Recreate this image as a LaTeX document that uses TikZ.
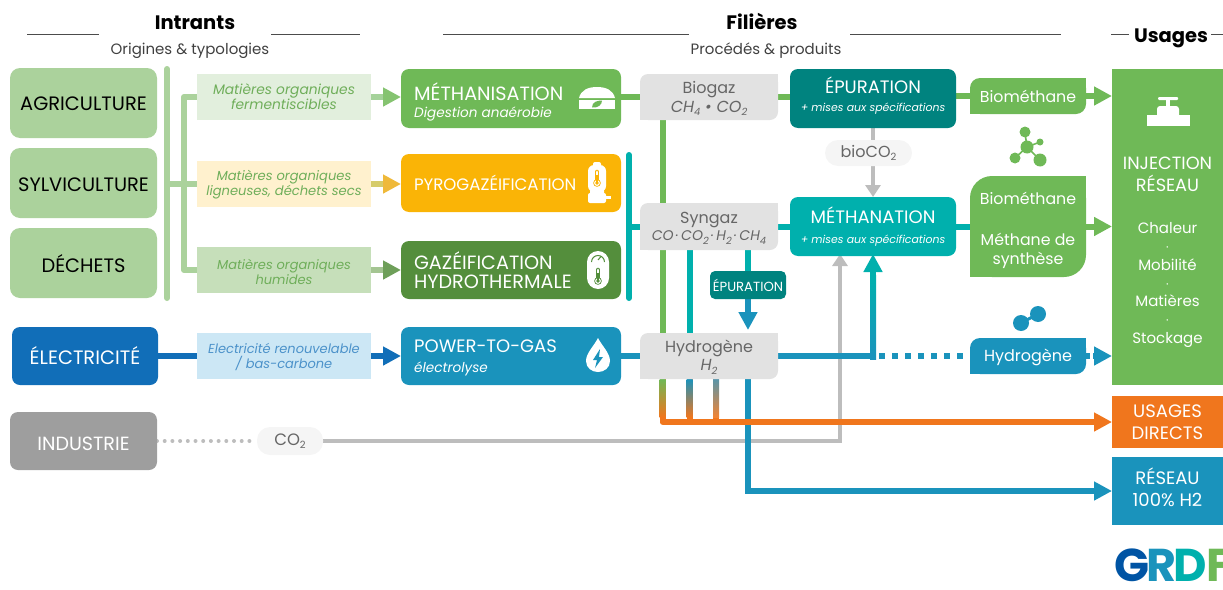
\documentclass[tikz,border=0pt]{standalone}
\usepackage{fontspec}
\setmainfont{Poppins}
\usetikzlibrary{arrows.meta,backgrounds,calc}
\definecolor{cGreen}{HTML}{6FB957}
\definecolor{cLeft}{HTML}{ABD29C}
\definecolor{cYellow}{HTML}{FAB406}
\definecolor{cDark}{HTML}{548E3C}
\definecolor{cBlue}{HTML}{1A93BC}
\definecolor{cElec}{HTML}{116EB8}
\definecolor{cTeal}{HTML}{00B0AD}
\definecolor{cDeep}{HTML}{00837F}
\definecolor{cOrange}{HTML}{F0761D}
\definecolor{cGray}{HTML}{BDBDBD}
\definecolor{cPanel}{HTML}{E2E2E2}
\definecolor{cTxt}{HTML}{666666}
\definecolor{cMat}{HTML}{6FAE5A}
\newcommand{\fs}[1]{\fontsize{#1}{#1}\selectfont}
\newcommand{\sbs}[1]{\raisebox{-3.5pt}{\fontsize{10}{10}\selectfont #1}}
\newcommand{\bx}[7]{\node[inner sep=0pt,outer sep=0pt,align=center,minimum width={(#4-#2)*1pt},minimum height={(#5-#3)*1pt},#6] (#1) at ({(#2+#4)/2},{(#3+#5)/2}) {#7};}
\newcommand{\lf}[9]{%
 \fill[#7] (#4-#6,#3) rectangle (#4,#3+#6);
 \fill[#7] (#2,#5-#6) rectangle (#2+#6,#5);
 \bx{#1}{#2}{#3}{#4}{#5}{fill=#7,rounded corners=#6pt,#8}{#9}}
\newcommand{\thermo}[5]{% x, top y, bulb y, colour, background
 \draw[#4,line width=4.6pt,line cap=round] (#1,#2) -- (#1,#3);
 \fill[#4] (#1,#3) circle[radius=3.8];
 \draw[#5,line width=2.8pt,line cap=round] (#1,#2) -- (#1,#3);
 \fill[#5] (#1,#3) circle[radius=2.9];
 \draw[#4,line width=1.1pt] (#1,#2+2.5) -- (#1,#3);
 \fill[#4] (#1,#3) circle[radius=1.9];
}
\tikzset{
 x=1pt,y=-1pt,
 left box/.style={fill=cLeft,rounded corners=10pt,font=\fs{19.4},text=black},
 mat/.style={font=\fs{13.8}\itshape,text=cMat},
 proc/.style={rounded corners=8pt,text=white,align=left,text width=194pt,font=\fs{19.2}},
 proc text/.style={anchor=west,inner sep=0pt,text=white,align=left},
 panel/.style={font=\fs{16},text=cTxt},
 pill/.style={fill=black!4,rounded corners=13pt,text=cTxt,font=\fs{16}},
 head/.style={font=\fs{19.5}\bfseries,text=black},
 sub/.style={font=\fs{15},text=black!75},
 rule/.style={draw=black!70,line width=0.8pt},
 flow/.style={line width=6pt},
 big tip/.style={-{Triangle[length=18pt,width=18pt]}},
 small tip/.style={-{Triangle[length=12pt,width=15pt]}},
}
\begin{document}
\begin{tikzpicture}
\useasboundingbox (0,0) rectangle (1223,589);
% headings
\node[head] (tIn) at (195,23) {Intrants};
\node[sub] (sIn) at (190,51) {Origines \& typologies};
\node[head] (tFi) at (762,21.5) {Filières};
\node[sub] (sFi) at (766,51) {Procédés \& produits};
\node[head] (tUs) at (1171,38.5) {Usages};
\draw[rule] (27,34.5) -- (99,34.5);
\draw[rule] (271,34.5) -- (360,34.5);
\draw[rule] (443,34.5) -- (689,34.5);
\draw[rule] (850,34.5) -- (1061,34.5);
\draw[rule] (1111,34.5) -- (1129,34.5);
\draw[rule] (1211,34.5) -- (1223,34.5);
% sources
\bx{agri}{10}{68}{157}{138}{left box}{\rule{0pt}{16pt}AGRICULTURE}
\bx{sylv}{10}{148}{157}{218}{left box}{\rule{0pt}{18pt}SYLVICULTURE}
\bx{dech}{10}{228}{157}{298}{left box}{\rule{0pt}{20pt}DÉCHETS}
\bx{elec}{12}{327}{158}{385}{fill=cElec,rounded corners=8pt,text=white,font=\fs{19.4}}{ÉLECTRICITÉ}
\bx{indu}{10}{412}{157}{470}{fill=black!38,rounded corners=8pt,text=white,font=\fs{19.1}}{\rule{0pt}{19.5pt}INDUSTRIE}
\coordinate (barT) at (167,69);
\coordinate (barB) at (167,298);
\coordinate (forkT) at (184,97);
\coordinate (forkB) at (184,270);
% matters
\bx{m1}{197}{74}{371}{120}{fill={rgb,255:red,226;green,239;blue,221},mat}{Matières organiques\\fermentiscibles}
\bx{m2}{197}{161}{371}{207}{fill={rgb,255:red,255;green,241;blue,206},mat,font=\fs{13.1}\itshape}{\rule{0pt}{12pt}Matières organiques\\ligneuses, déchets secs}
\bx{m3}{197}{247}{371}{293}{fill={rgb,255:red,198;green,223;blue,186},mat,font=\fs{13}\itshape}{\rule{0pt}{14pt}Matières organiques\\humides}
\bx{m4}{197}{333}{371}{379}{fill={rgb,255:red,204;green,231;blue,245},mat,font=\fs{13}\itshape,text=cElec!75!white}{\rule{0pt}{12pt}Electricité renouvelable\\[2.5pt]/ bas-carbone}
% processes
\bx{p1}{401}{69}{621}{128}{fill=cGreen,proc}{}
\node[proc text,font=\fs{19.2}] (p1T) at (414,102) {MÉTHANISATION\\[-3pt]{\fs{13.6}\itshape Digestion anaérobie}};
\bx{p2}{401}{154}{621}{212}{fill=cYellow,proc,font=\fs{16.6}}{PYROGAZÉIFICATION}
\bx{p3}{401}{241}{621}{299}{fill=cDark,proc}{GAZÉIFICATION\\[0pt]HYDROTHERMALE}
\bx{p4}{401}{327}{621}{385}{fill=cBlue,proc}{}
\node[proc text,font=\fs{18}] (p4T) at (414,358) {POWER-TO-GAS\\[2pt]{\fs{13.6}\itshape électrolyse}};
% gas panels
\lf{bio}{640}{74}{778}{120}{8}{cPanel}{panel}{\rule{0pt}{15pt}Biogaz\\[3pt]{\itshape CH\sbs{4} • CO\sbs{2}}}
\lf{syn}{640}{203}{778}{250}{8}{cPanel}{panel}{\rule{0pt}{15pt}Syngaz\\[1pt]{\fs{14}\itshape CO\,·\,CO\sbs{2}\,·\,H\sbs{2}\,·\,CH\sbs{4}}}
\lf{hyd}{640}{333}{778}{379}{8}{cPanel}{panel}{\rule{0pt}{15pt}Hydrogène\\[2pt]{\itshape H\sbs{2}}}
% treatment
\bx{epu}{790}{69}{956}{128}{fill=cDeep,rounded corners=8pt}{}
\node[inner sep=0pt,align=center,text=white,font=\fs{18}] (epuT) at (873,96) {ÉPURATION\\[0pt]{\fs{10.9}\itshape + mises aux spécifications}};
\bx{met}{790}{197}{956}{256}{fill=cTeal,rounded corners=8pt,text=white,font=\fs{18}}{MÉTHANATION\\[2pt]{\fs{10.9}\itshape + mises aux spécifications}}
\bx{eps}{710}{271}{786}{299}{fill=cDeep,rounded corners=5pt,text=white,font=\fs{13.2}}{ÉPURATION}
\bx{bco}{825}{140}{912}{166}{pill}{bioCO\sbs{2}}
\bx{co2}{257}{427}{323}{455}{pill,font=\fs{16.5}}{CO\sbs{2}}
% products
\lf{pr1}{970}{78}{1086}{114}{10}{cGreen}{text=white,font=\fs{15.8}}{\rule{0pt}{14pt}Biométhane}
\lf{pr2}{970}{176}{1086}{277}{22}{cGreen}{text=white,font=\fs{15.8}}{\rule{0pt}{19.5pt}Biométhane\\[25pt]Méthane de\\[3pt]synthèse}
\lf{pr3}{970}{338}{1086}{374}{10}{cBlue}{text=white,font=\fs{16}}{\rule{0pt}{16pt}Hydrogène}
% uses
\bx{inj}{1112}{69}{1223}{385}{fill=cGreen}{}
\node[text=white,font=\fs{17.7},align=center,inner sep=0pt] (injT) at (1167.5,174) {INJECTION\\[4pt]RÉSEAU};
\node[text=white,font=\fs{15},align=center,inner sep=0pt] (injU) at (1167.5,285) {Chaleur\\[3pt]{\fs{12}·}\\[3.7pt]Mobilité\\[3pt]{\fs{12}·}\\[3.7pt]Matières\\[3pt]{\fs{12}·}\\[3.7pt]Stockage};
\bx{dir}{1112}{396}{1223}{448}{fill=cOrange,text=white,font=\fs{18}}{USAGES\\[4pt]DIRECTS}
\bx{res}{1112}{457}{1223}{525}{fill=cBlue,text=white,font=\fs{18}}{RÉSEAU\\[4pt]100\% H2\rule[-7pt]{0pt}{0pt}}
% icons: tap
\fill[white] (1147,115) rectangle (1190,126);
\fill[white,rounded corners=3pt] (1157,106) rectangle (1179,118);
\fill[white] (1166,99) rectangle (1170,107);
\fill[white,rounded corners=1pt] (1158,97) rectangle (1178,100);
% icons: molecule
\draw[cGreen,line width=1.6pt] (1025,133) -- (1027,147) -- (1040,142);
\draw[cGreen,line width=1.6pt] (1015,158) -- (1027,147) -- (1040,160);
\fill[cGreen] (1027,147) circle[radius=6.5];
\fill[cGreen] (1025,132) circle[radius=5.5];
\fill[cGreen] (1040,142) circle[radius=3.5];
\fill[cGreen] (1015,158) circle[radius=5.5];
\fill[cGreen] (1040,160) circle[radius=6.5];
% icons: H2
\draw[cBlue,line width=3pt] (1021,323) -- (1038,314);
\fill[cBlue] (1021,323) circle[radius=8];
\fill[cBlue] (1038,314) circle[radius=8];
% icons: dome
\fill[white] (579,98) .. controls (581,90) and (588,87) .. (597,87) .. controls (606,87) and (613,90) .. (615,98) -- cycle;
\fill[white] (579,99.5) rectangle (615,109);
\fill[cGreen] (592,107.5) .. controls (592,102) and (597,100.5) .. (602,100.5) .. controls (602,105) and (598,108) .. (592,107.5) -- cycle;
% icons: pyro
\fill[white,rounded corners=2pt] (593,162) rectangle (601,169);
\fill[white,rounded corners=6pt] (588,165) rectangle (606,192);
\fill[white,rounded corners=2pt] (590,189) rectangle (604,196);
\fill[white,rounded corners=2pt] (588,193) rectangle (606,203);
\fill[white] (605,195.5) rectangle (610.5,198.5);
\thermo{597}{172}{183}{cYellow}{white}
% icons: gauge
\fill[white,rounded corners=11pt] (587,251) rectangle (609,289);
\draw[cDark,line width=1pt] (591.5,262) arc[start angle=180,end angle=0,radius=6.5,y radius=-6.5];
\draw[cDark,line width=1pt] (598,260) -- (601,256.5);
\thermo{598}{270}{281}{cDark}{white}
% icons: drop
\fill[white] (598,338) .. controls (594,346) and (586,353) .. (586,361) .. controls (586,368) and (592,372) .. (598,372) .. controls (604,372) and (610,368) .. (610,361) .. controls (610,353) and (602,346) .. (598,338) -- cycle;
\fill[cBlue] (600,349) -- (593,360) -- (597,360) -- (595,368) -- (603,357) -- (599,357) -- cycle;
% logo
\node[anchor=west,inner sep=0pt,font=\fs{46}\bfseries,text={rgb,255:red,0;green,84;blue,164}] (lgG) at (1114,565) {G};
\node[anchor=west,inner sep=0pt,font=\fs{46}\bfseries,text=cBlue] (lgR) at (1146,565) {R};
\node[anchor=west,inner sep=0pt,font=\fs{46}\bfseries,text=cTeal] (lgD) at (1173,565) {D};
\node[anchor=west,inner sep=0pt,font=\fs{46}\bfseries,text=cGreen] (lgF) at (1206,565) {F};
% connectors
\begin{pgfonlayer}{background}
\draw[cLeft,line width=6pt,line cap=round] (barT) -- (barB);
\draw[cLeft,line width=6pt,line join=round] (m1.west) -| (forkT) -- (forkB) |- (m3.west);
\draw[cLeft,line width=6pt] (barT |- m2.west) -- (m2.west);
\draw[flow,color={rgb,255:red,165;green,210;blue,154},-{Triangle[length=18pt,width=18pt,color=cGreen!85!white]}] (m1.east) -- (m1.east -| p1.west);
\draw[flow,color={rgb,255:red,214;green,204;blue,106},-{Triangle[length=18pt,width=18pt,color={rgb,255:red,239;green,185;blue,58}]}] (m2.east) -- (m2.east -| p2.west);
\draw[flow,color={rgb,255:red,164;green,197;blue,146},-{Triangle[length=18pt,width=18pt,color=cDark!85!white]}] (m3.east) -- (m3.east -| p3.west);
\draw[flow,cElec] (elec.east) -- (elec.east -| m4.west);
\draw[flow,cElec,big tip] (m4.east) -- (m4.east -| p4.west);
\coordinate (tbT) at (629,155);
\coordinate (tbB) at (629,298);
\draw[cTeal,line width=6pt,line cap=round] (tbT) -- (tbB);
\draw[flow,cTeal] (tbT |- syn.west) -- (syn.west);
\draw[flow,cGreen] (p1.east |- bio.west) -- (bio.west);
\draw[flow,cBlue] (p4.east) -- (hyd.west);
\draw[flow,cGreen] (bio.east) -- (epu.west |- bio.east);
\draw[flow,cTeal] (syn.east) -- (met.west |- syn.east);
\draw[flow,cGreen] (epu.east |- pr1.west) -- (pr1.west);
\draw[flow,cTeal] (met.east |- syn.east) -- (pr2.west |- syn.east);
\draw[flow,cGreen,big tip] (pr1.east) -- (inj.west |- pr1.east);
\draw[flow,cGreen,big tip] (pr2.east) -- (inj.west |- pr2.east);
% verticals
\coordinate (gx) at ([xshift=22.5pt]bio.south west);
\coordinate (tx) at ([xshift=49.5pt]syn.south west);
\coordinate (qx) at ([xshift=76pt]hyd.south west);
\coordinate (bx) at ([xshift=108pt]hyd.south west);
\coordinate (ax) at ([xshift=83pt]met.south west);
\coordinate (cx) at ([xshift=50pt]met.south west);
\draw[flow,cGreen] (gx) -- (gx |- hyd.north);
\draw[flow,cTeal] (tx) -- (tx |- hyd.north);
\draw[flow,cTeal] (eps.north |- syn.south) -- (eps.north);
\draw[flow,cBlue,big tip,shorten >=3pt] (eps.south) -- (hyd.north -| eps.south);
% grey
\draw[cGray,line width=4pt,line cap=round,dash pattern=on 0pt off 7.7pt] (indu.east |- co2.west) -- (co2.west);
\draw[cGray,line width=4.5pt,small tip,shorten >=-2pt] (co2.east) -| (cx);
\draw[cGray,line width=4.5pt] (epu.south -| ax) -- (bco.north -| ax);
\draw[cGray,line width=4.5pt,small tip] (bco.south -| ax) -- (met.north -| ax);
% blue branches
\draw[flow,cTeal,big tip,shorten >=-2pt] (ax |- hyd.east) -- (ax);
\shade[top color=cTeal,bottom color=cBlue] (870,275) rectangle (876,359);
\draw[flow,cBlue] (hyd.east) -- (ax |- hyd.east);
\draw[flow,cBlue,dash pattern=on 6pt off 7pt] ([xshift=6pt]ax |- hyd.east) -- (pr3.west);
\draw[flow,cBlue,dash pattern=on 4pt off 3pt,big tip] (pr3.east) -- (inj.west |- pr3.east);
% orange and lower blue
\draw[flow,cBlue,big tip] (bx) |- (res.west);
\draw[flow,cOrange,line join=round,big tip] (gx |- hyd.south) |- (dir.west);
\draw[flow,cOrange] (tx |- hyd.south) -- (tx |- dir.west);
\draw[flow,cOrange] (qx) -- (qx |- dir.west);
\shade[top color=cGreen,bottom color=cOrange] (659.5,379) rectangle (665.5,417);
\shade[top color=cBlue,bottom color=cOrange] (686.5,379) rectangle (692.5,417);
\shade[top color=cBlue!70!black!70,bottom color=cOrange!90] (713,379) rectangle (719,417);
\end{pgfonlayer}
\end{tikzpicture}
\end{document}
